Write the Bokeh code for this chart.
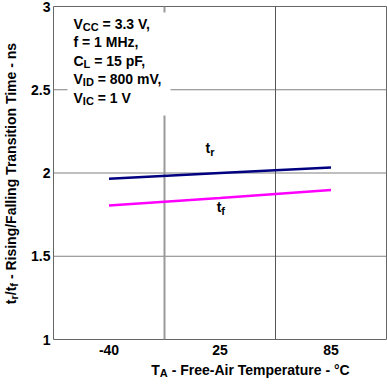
import math
from bokeh.plotting import figure
from bokeh.layouts import row, column
from bokeh.models import Label, Span, BoxAnnotation, FixedTicker
from bokeh.embed import file_html
from bokeh.resources import INLINE

# ---- data ----
temps = ["-40", "25", "85"]
t_rise = [1.966, 2.000, 2.033]
t_fall = [1.805, 1.850, 1.898]
y_ticks = [1, 1.5, 2, 2.5, 3]
y_tick_labels = ["1", "1.5", "2", "2.5", "3"]
cond_lines = [
    [("V", False), ("CC", True), (" = 3.3 V,", False)],
    [("f = 1 MHz,", False)],
    [("C", False), ("L", True), (" = 15 pF,", False)],
    [("V", False), ("ID", True), (" = 800 mV,", False)],
    [("V", False), ("IC", True), (" = 1 V", False)],
]
x_title = [("T", False), ("A", True), (" - Free-Air Temperature - \u00b0C", False)]
y_title = [("t", False), ("r", True), ("/t", False), ("f", True),
           (" - Rising/Falling Transition Time - ns", False)]
rise_label = [("t", False), ("r", True)]
fall_label = [("t", False), ("f", True)]
rise_label_pos = (0.87, 2.119)
fall_label_pos = (0.97, 1.765)

# ---- layout ----
TOTAL_W, TOTAL_H = 387, 388
YT_W = 26                 # strip for the y-axis title
XT_H = 28                 # strip for the x-axis title
W = TOTAL_W - YT_W        # main figure width
H = TOTAL_H - XT_H        # main figure height
BL, BR, BT, BB = 53 - YT_W, 1, 6, 21
FW = W - BL - BR
FH = H - BT - BB
X0, X1 = -0.5, len(temps) - 0.5
Y0, Y1 = 1, 3
XPX = FW / (X1 - X0)
YPX = FH / (Y1 - Y0)

FONT = "Liberation Sans"
MAIN = 14
SUB = 11
SUBSHIFT = 3.5
BASE_FIX = 5.0   # rendered baseline sits lower than requested; compensate

AW = {' ': 278, ',': 278, '-': 333, '.': 278, '/': 278, '=': 584, '\u00b0': 400,
      'A': 722, 'C': 722, 'D': 722, 'F': 611, 'H': 722, 'I': 278, 'L': 611,
      'M': 833, 'R': 722, 'T': 611, 'V': 667,
      'a': 556, 'e': 556, 'f': 333, 'g': 611, 'i': 278, 'l': 278, 'm': 889,
      'n': 611, 'o': 611, 'p': 611, 'r': 389, 's': 556, 't': 333, 'u': 611,
      'z': 500}


def tw(text, size):
    return sum(AW.get(c, 556) for c in text) * size / 1000.0


def lab(fig, x, y, text, size, xo, yo, angle=0.0):
    n = len(text) - len(text.lstrip(" "))
    if n:
        if angle:
            yo += tw(" " * n, size)
        else:
            xo += tw(" " * n, size)
        text = text.lstrip(" ")
    fig.add_layout(Label(x=x, y=y, x_offset=xo, y_offset=yo, text=text,
                         text_font=FONT, text_font_style="bold",
                         text_font_size=f"{size}px", text_color="black",
                         text_align="left", text_baseline="alphabetic",
                         angle=angle))


def rich(fig, x, y, pieces, xo, yo, vertical=False):
    d = 0.0
    for text, sub in pieces:
        size = SUB if sub else MAIN
        shift = SUBSHIFT if sub else 0.0
        if vertical:
            lab(fig, x, y, text, size, xo + shift - BASE_FIX, yo + d, math.pi / 2)
        else:
            lab(fig, x, y, text, size, xo + d, yo - shift + BASE_FIX)
        d += tw(text, size)
    return d


def rich_width(pieces):
    return sum(tw(t, SUB if s else MAIN) for t, s in pieces)


def blank(w, h):
    f = figure(width=w, height=h, x_range=(0, w), y_range=(0, h),
               x_axis_type=None, y_axis_type=None,
               output_backend="svg", toolbar_location=None,
               min_border=0, min_border_left=0, min_border_right=0,
               min_border_top=0, min_border_bottom=0)
    f.outline_line_color = None
    f.background_fill_color = "white"
    f.border_fill_color = "white"
    return f


# ---- main plot ----
xs = list(range(len(temps)))

p = figure(width=W, height=H, x_range=(X0, X1), y_range=(Y0, Y1),
           output_backend="svg", toolbar_location=None,
           min_border_left=BL, min_border_right=BR,
           min_border_top=BT, min_border_bottom=BB)
p.background_fill_color = "white"
p.border_fill_color = "white"
p.outline_line_color = "#666666"
p.outline_line_width = 1

p.xgrid.visible = False
p.ygrid.visible = False

for v in y_ticks[1:-1]:
    p.add_layout(Span(location=v, dimension="width", line_color="#808080",
                      line_width=1, level="underlay"))
p.add_layout(Span(location=0.5, dimension="height", line_color="#9a9a9a",
                  line_width=2, level="underlay"))
p.add_layout(Span(location=1.5, dimension="height", line_color="#555555",
                  line_width=1, level="underlay"))

# white box behind the test conditions
p.add_layout(BoxAnnotation(left=X0 + 14 / XPX, right=0.5 + 6 / XPX,
                           top=Y1 - 6 / YPX, bottom=Y1 - 109 / YPX,
                           fill_color="white", fill_alpha=1.0,
                           line_color=None, level="annotation"))

p.line(xs, t_rise, line_color="#000080", line_width=2.5)
p.line(xs, t_fall, line_color="#ff00ff", line_width=2.5)

for ax in (p.xaxis[0], p.yaxis[0]):
    ax.axis_line_color = None
    ax.major_tick_line_color = None
    ax.minor_tick_line_color = None
    ax.major_tick_out = 0
    ax.major_tick_in = 0
    ax.minor_tick_out = 0
    ax.minor_tick_in = 0
    ax.major_label_text_font = FONT
    ax.major_label_text_font_style = "bold"
    ax.major_label_text_font_size = f"{MAIN}px"
    ax.major_label_text_color = "black"

p.xaxis.ticker = FixedTicker(ticks=xs)
p.xaxis.major_label_overrides = {i: t for i, t in enumerate(temps)}
p.xaxis.major_label_standoff = 5
p.yaxis.ticker = FixedTicker(ticks=y_ticks)
p.yaxis.major_label_overrides = {v: s for v, s in zip(y_ticks, y_tick_labels)}
p.yaxis.major_label_standoff = 3

# test conditions
baselines = [22.3, 40.7, 59.0, 77.3, 96.3]
for pieces, b in zip(cond_lines, baselines):
    rich(p, X0, Y1, pieces, 20, -b)

# curve labels
rich(p, rise_label_pos[0], rise_label_pos[1], rise_label, 0, 0)
rich(p, fall_label_pos[0], fall_label_pos[1], fall_label, 0, 0)

# ---- x-axis title strip ----
fx = blank(W, XT_H)
wx = rich_width(x_title)
x_center = BL + FW / 2 + 4
rich(fx, 0, 0, x_title, x_center - wx / 2, 14)

# ---- y-axis title strip ----
fy = blank(YT_W, TOTAL_H)
wy = rich_width(y_title)
y_center = TOTAL_H - (BT + FH / 2)
rich(fy, 0, 0, y_title, 15, y_center - wy / 2, vertical=True)

layout = row(fy, column(p, fx, spacing=0), spacing=0)

open("out.html", "w").write(file_html(layout, INLINE))
